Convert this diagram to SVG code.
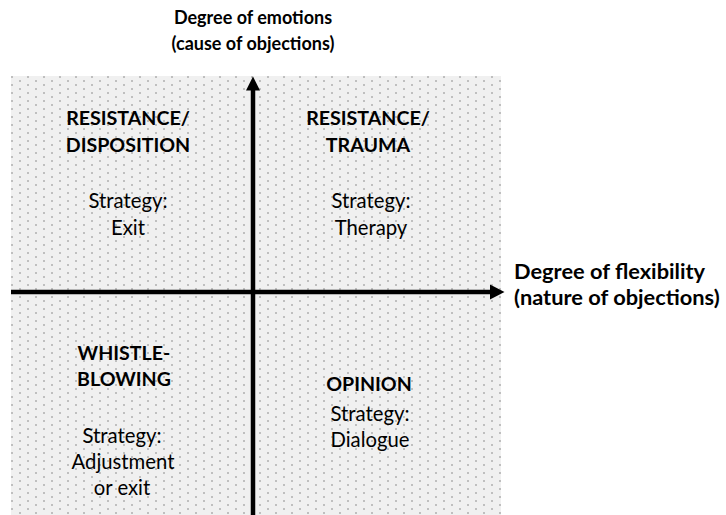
<svg xmlns="http://www.w3.org/2000/svg" width="726" height="515" viewBox="0 0 726 515">
<style>
text{font-family:Lato,"Open Sans","Liberation Sans",sans-serif;fill:#000;text-anchor:middle;font-size:20.3px}
.b{font-weight:bold;font-size:19.6px}
.top{font-size:18px}
.right{text-anchor:start;font-size:21.8px}
.ax{stroke:#000;stroke-width:4.5;fill:none}
.ah{fill:#000}
</style>
<defs>
<pattern id="dots" x="3" y="0" width="16" height="8" patternUnits="userSpaceOnUse">
<rect width="16" height="8" fill="#f0f0f0"/>
<rect x="0" y="0" width="2" height="2" fill="#bfbfbf"/>
<rect x="8" y="4" width="2" height="2" fill="#bfbfbf"/>
</pattern>
</defs>
<rect id="background" x="11" y="76" width="490" height="439" fill="url(#dots)"/>
<g id="connectors">
<line class="ax" x1="11" y1="292" x2="492" y2="292"/>
<polygon class="ah" points="490,284.5 504.5,292 490,299.5"/>
<line class="ax" x1="253" y1="515" x2="253" y2="88"/>
<polygon class="ah" points="246,90.5 253,76.5 260,90.5"/>
</g>
<g id="y-axis-label">
<text class="b top" x="253" y="23.5">Degree of emotions</text>
<text class="b top" x="253" y="49.5">(cause of objections)</text>
</g>
<g id="x-axis-label">
<text class="b right" x="514" y="278.5">Degree of flexibility</text>
<text class="b right" x="514" y="304.5">(nature of objections)</text>
</g>
<g id="q-resistance-disposition">
<text class="b" x="128" y="125">RESISTANCE/</text>
<text class="b" x="128" y="151.5">DISPOSITION</text>
<text x="128" y="208">Strategy:</text>
<text x="128" y="234.5">Exit</text>
</g>
<g id="q-resistance-trauma">
<text class="b" x="368" y="125">RESISTANCE/</text>
<text class="b" x="368" y="151.5">TRAUMA</text>
<text x="371" y="208">Strategy:</text>
<text x="371" y="234.5">Therapy</text>
</g>
<g id="q-whistleblowing">
<text class="b" x="124" y="360">WHISTLE-</text>
<text class="b" x="124" y="386">BLOWING</text>
<text x="122" y="443">Strategy:</text>
<text x="123" y="469">Adjustment</text>
<text x="122" y="495">or exit</text>
</g>
<g id="q-opinion">
<text class="b" x="369" y="391">OPINION</text>
<text x="370" y="421">Strategy:</text>
<text x="370" y="447">Dialogue</text>
</g>
</svg>
